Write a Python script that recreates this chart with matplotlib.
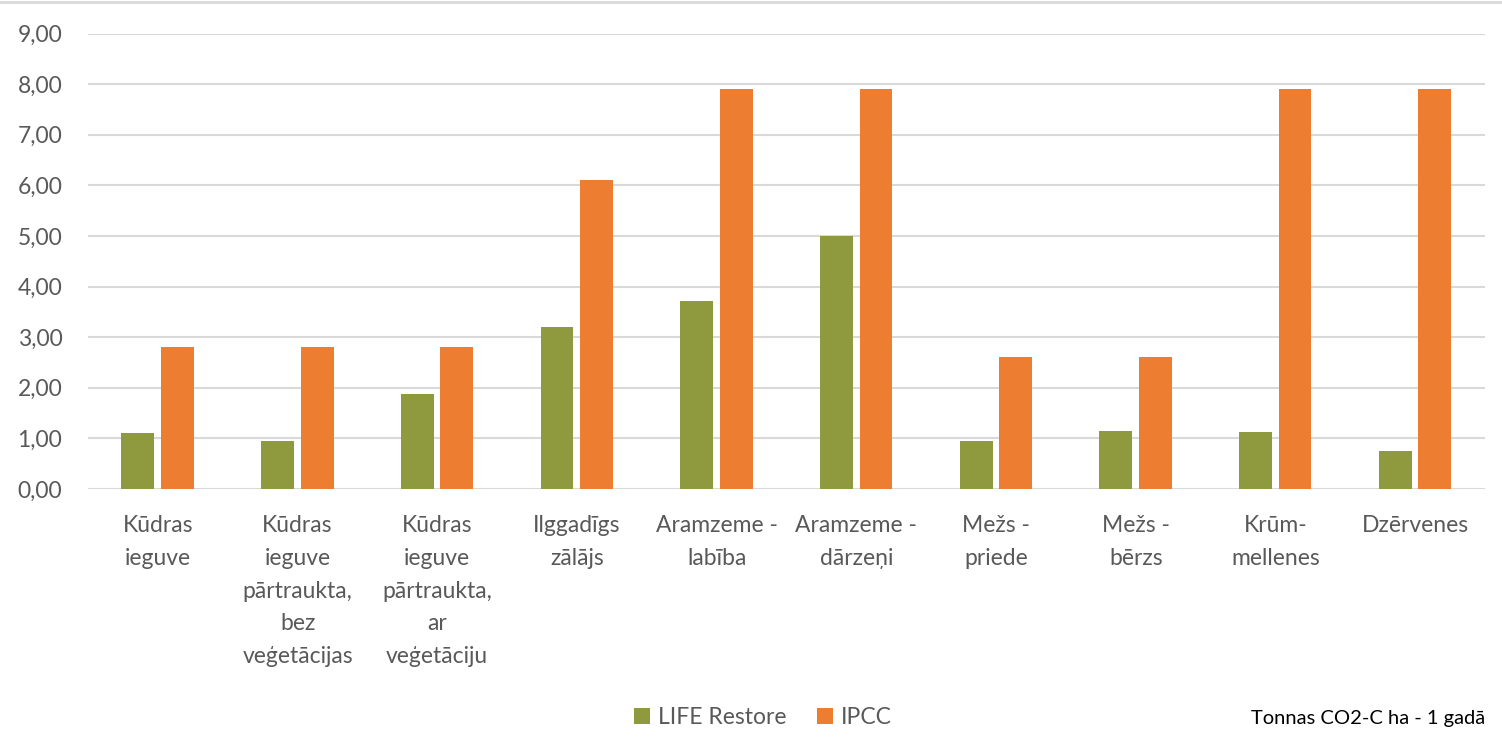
import matplotlib
matplotlib.use("Agg")
import matplotlib.pyplot as plt
from matplotlib.ticker import FuncFormatter
import numpy as np

plt.rcParams['font.family'] = ['Lato', 'DejaVu Sans']

categories = [
    "Kūdras\nieguve",
    "Kūdras\nieguve\npārtraukta,\nbez\nveģetācijas",
    "Kūdras\nieguve\npārtraukta,\nar\nveģetāciju",
    "Ilggadīgs\nzālājs",
    "Aramzeme -\nlabība",
    "Aramzeme -\ndārzeņi",
    "Mežs -\npriede",
    "Mežs -\nbērzs",
    "Krūm-\nmellenes",
    "Dzērvenes",
]
life_restore = [1.10, 0.95, 1.87, 3.20, 3.72, 5.00, 0.95, 1.15, 1.13, 0.75]
ipcc = [2.80, 2.80, 2.80, 6.10, 7.90, 7.90, 2.60, 2.60, 7.90, 7.90]

GREEN = "#8f9a3e"
ORANGE = "#ed7d31"
GRID = "#d9d9d9"
TEXT = "#595959"

fig = plt.figure(figsize=(15.02, 7.55), dpi=100)
ax = fig.add_axes([0.0586, 0.3523, 0.9301, 0.6033])

x = np.arange(len(categories))
w = 0.235
ax.bar(x - 0.143, life_restore, w, color=GREEN, label="LIFE Restore", zorder=3)
ax.bar(x + 0.14, ipcc, w, color=ORANGE, label="IPCC", zorder=3)

ax.set_xlim(-0.5, len(categories) - 0.5)
ax.set_ylim(0, 9)
ax.set_yticks(np.arange(0, 10, 1))
ax.yaxis.set_major_formatter(FuncFormatter(lambda v, p: f"{v:.2f}".replace(".", ",")))
ax.grid(axis="y", color=GRID, linewidth=1.5, zorder=0)
for s in ax.spines.values():
    s.set_visible(False)
ax.tick_params(axis="both", length=0, colors=TEXT, labelsize=16.5)
ax.tick_params(axis="y", pad=18.5)
ax.set_xticks(x)
ax.set_xticklabels(categories, linespacing=1.68, va="top")
ax.tick_params(axis="x", pad=19)

fig.legend(loc="center", bbox_to_anchor=(0.508, 0.05), ncol=2, frameon=False,
           fontsize=16.5, labelcolor=TEXT, handlelength=0.72, handleheight=0.72,
           handletextpad=0.35, columnspacing=1.3)
fig.text(0.989, 0.048, "Tonnas CO2-C ha - 1 gadā", ha="right", va="center",
         fontsize=14.5, color="black")

# light frame line at the top of the chart area
fig.add_artist(plt.Line2D([0, 1], [0.998, 0.998], color=GRID, linewidth=2,
                          transform=fig.transFigure))

fig.savefig("out.png", dpi=100)
